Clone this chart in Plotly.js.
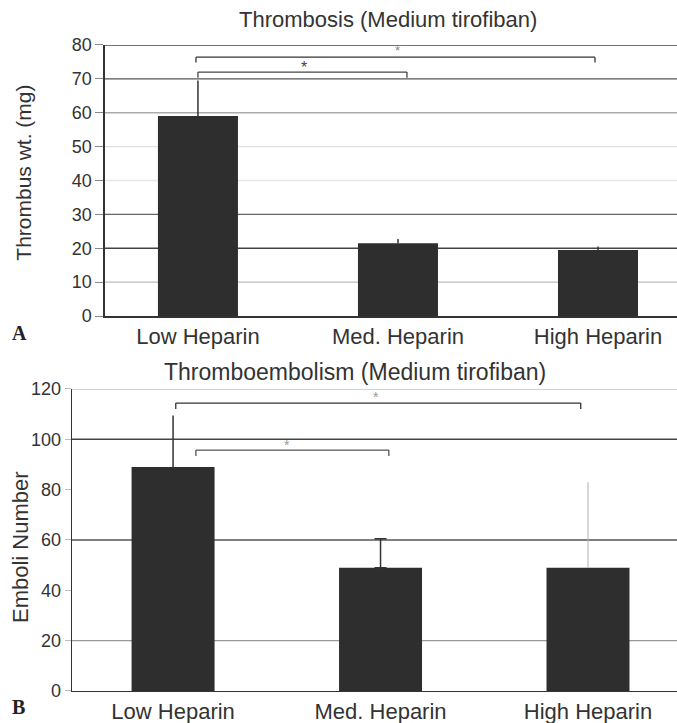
<!DOCTYPE html>
<html>
<head>
<meta charset="utf-8">
<script src="https://cdn.plot.ly/plotly-3.0.1.min.js"></script>
<style>html,body{margin:0;padding:0;background:#fff;}#chart{width:677px;height:723px;}</style>
</head>
<body>
<div id="chart"></div>
<script>
// ---- data ----
var categories = ["Low Heparin", "Med. Heparin", "High Heparin"];
var thrombusWt = [59, 21.5, 19.5];
var thrombusErrUp = [10.5, 1.2, 1.0];
var emboliNumber = [89, 49, 49];
var emboliErrUp = [20.5, 11.5, 34];
var topTicks = [0, 10, 20, 30, 40, 50, 60, 70, 80];
var bottomTicks = [0, 20, 40, 60, 80, 100, 120];

var FONT = "Liberation Sans, Arial, sans-serif";
var TXT = "#333";

var traces = [
  {
    type: "bar", x: categories, y: thrombusWt, xaxis: "x", yaxis: "y",
    width: 0.4, marker: {color: "#2e2e2e", line: {width: 0}},
    error_y: {type: "data", symmetric: false, array: thrombusErrUp,
              arrayminus: thrombusWt.map(function(){return 0;}),
              color: "#333", thickness: 1.5, width: 0},
    hoverinfo: "skip", showlegend: false
  }
];

// bottom panel: one trace per bar so each error whisker can keep its own look
var botErrStyle = [
  {color: "#333", thickness: 1.5, width: 0},
  {color: "#333", thickness: 1.5, width: 6},
  {color: "#b0b0b0", thickness: 1, width: 0}
];
categories.forEach(function(c, i){
  traces.push({
    type: "bar", x: [c], y: [emboliNumber[i]], xaxis: "x2", yaxis: "y2",
    width: 0.4, marker: {color: "#2e2e2e", line: {width: 0}},
    error_y: {type: "data", symmetric: false, array: [emboliErrUp[i]], arrayminus: [0],
              color: botErrStyle[i].color, thickness: botErrStyle[i].thickness, width: botErrStyle[i].width},
    hoverinfo: "skip", showlegend: false
  });
});

// gridline shades (style only)
var topGridStyle = {10: "#bdbdbd", 20: "#444", 30: "#666", 40: "#e6e6e6", 50: "#e0e0e0", 60: "#aaa", 70: "#555", 80: "#444"};
var botGridStyle = {20: "#999", 60: "#555", 100: "#444", 120: "#c4c4c4"};

var shapes = [];
Object.keys(topGridStyle).forEach(function(k){
  shapes.push({type: "line", xref: "x domain", yref: "y", x0: 0, x1: 1, y0: +k, y1: +k,
               line: {color: topGridStyle[k], width: 1.4}, layer: "below"});
});
Object.keys(botGridStyle).forEach(function(k){
  shapes.push({type: "line", xref: "x2 domain", yref: "y2", x0: 0, x1: 1, y0: +k, y1: +k,
               line: {color: botGridStyle[k], width: 1.4}, layer: "below"});
});

function bracket(xr, yr, xa, xb, yTop, yBot, col){
  shapes.push({type: "line", xref: xr, yref: yr, x0: xa, x1: xb, y0: yTop, y1: yTop, line: {color: col, width: 1.3}});
  shapes.push({type: "line", xref: xr, yref: yr, x0: xa, x1: xa, y0: yTop, y1: yBot, line: {color: col, width: 1.3}});
  shapes.push({type: "line", xref: xr, yref: yr, x0: xb, x1: xb, y0: yTop, y1: yBot, line: {color: col, width: 1.3}});
}
bracket("x", "y", -0.01, 1.985, 76.4, 74.8, "#333");
bracket("x", "y", 0, 1.045, 72.0, 70.3, "#444");
bracket("x2", "y2", 0.013, 1.965, 114.4, 112, "#333");
bracket("x2", "y2", 0.11, 1.04, 95.7, 93.4, "#555");

var annotations = [
  {text: "Thrombosis (Medium tirofiban)", xref: "paper", yref: "paper", x: 0.573, y: 0.9737,
   xanchor: "center", yanchor: "middle", showarrow: false, font: {family: FONT, size: 22, color: TXT}},
  {text: "Thromboembolism (Medium tirofiban)", xref: "paper", yref: "paper", x: 0.5244, y: 0.4855,
   xanchor: "center", yanchor: "middle", showarrow: false, font: {family: FONT, size: 23, color: TXT}},
  {text: "Thrombus wt. (mg)", xref: "paper", yref: "paper", x: 0.0335, y: 0.7607, textangle: -90,
   xanchor: "center", yanchor: "middle", showarrow: false, font: {family: FONT, size: 21, color: TXT}},
  {text: "Emboli Number", xref: "paper", yref: "paper", x: 0.0295, y: 0.2434, textangle: -90,
   xanchor: "center", yanchor: "middle", showarrow: false, font: {family: FONT, size: 22, color: TXT}},
  {text: "<b>A</b>", xref: "paper", yref: "paper", x: 0.0295, y: 0.5394,
   xanchor: "center", yanchor: "middle", showarrow: false, font: {family: "Liberation Serif, Times New Roman, serif", size: 20, color: "#222"}},
  {text: "<b>B</b>", xref: "paper", yref: "paper", x: 0.028, y: 0.0221,
   xanchor: "center", yanchor: "middle", showarrow: false, font: {family: "Liberation Serif, Times New Roman, serif", size: 20, color: "#222"}},
  {text: "*", xref: "x", yref: "y", x: 1.0, y: 78.3, showarrow: false, xanchor: "center", yanchor: "middle",
   font: {family: FONT, size: 13, color: "#888"}},
  {text: "*", xref: "x", yref: "y", x: 0.53, y: 73.4, showarrow: false, xanchor: "center", yanchor: "middle",
   font: {family: FONT, size: 16, color: "#444"}},
  {text: "*", xref: "x2", yref: "y2", x: 0.98, y: 116.8, showarrow: false, xanchor: "center", yanchor: "middle",
   font: {family: FONT, size: 14, color: "#999"}},
  {text: "*", xref: "x2", yref: "y2", x: 0.55, y: 97.9, showarrow: false, xanchor: "center", yanchor: "middle",
   font: {family: FONT, size: 14, color: "#999"}}
];

var layout = {
  width: 677, height: 723,
  margin: {l: 0, r: 0, t: 0, b: 0},
  paper_bgcolor: "#fff", plot_bgcolor: "#fff",
  showlegend: false,
  barmode: "overlay",
  xaxis: {domain: [0.155, 1], anchor: "y", type: "category", range: [-0.465, 2.395],
          showgrid: false, zeroline: false, showline: true, linecolor: "#333", linewidth: 1.5,
          ticks: "", tickfont: {family: FONT, size: 22, color: TXT}, fixedrange: true},
  yaxis: {domain: [0.5629, 0.9378], anchor: "x", range: [0, 80], tickvals: topTicks,
          showgrid: false, zeroline: false, showline: true, linecolor: "#333", linewidth: 1.5,
          ticks: "outside", ticklen: 8, tickcolor: "#888", tickwidth: 1,
          tickfont: {family: FONT, size: 18, color: TXT}, fixedrange: true},
  xaxis2: {domain: [0.1064, 1], anchor: "y2", type: "category", range: [-0.487, 2.429],
          categoryorder: "array", categoryarray: categories,
          showgrid: false, zeroline: false, showline: true, linecolor: "#333", linewidth: 1.5,
          ticks: "", tickfont: {family: FONT, size: 22, color: TXT}, fixedrange: true},
  yaxis2: {domain: [0.0443, 0.462], anchor: "x2", range: [0, 120], tickvals: bottomTicks,
          showgrid: false, zeroline: false, showline: true, linecolor: "#333", linewidth: 1.5,
          ticks: "outside", ticklen: 6, tickcolor: "#bbb", tickwidth: 1,
          tickfont: {family: FONT, size: 18, color: TXT}, fixedrange: true},
  shapes: shapes,
  annotations: annotations
};

Plotly.newPlot("chart", traces, layout, {displayModeBar: false, staticPlot: true});
</script>
</body>
</html>
